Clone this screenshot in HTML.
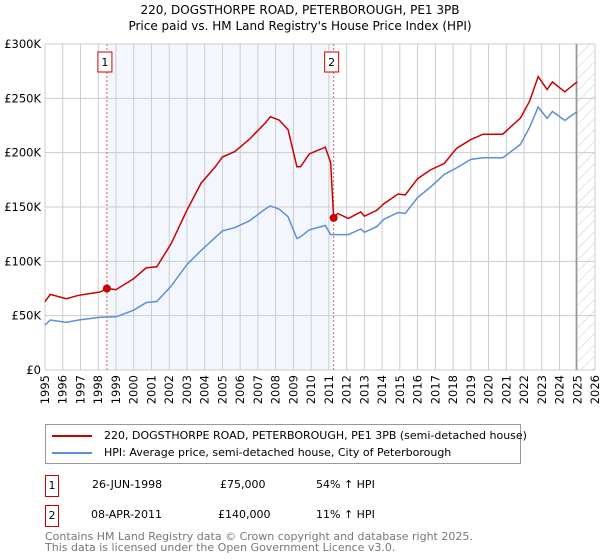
<!DOCTYPE html>
<html><head><meta charset="utf-8"><style>
body{margin:0;width:600px;height:560px;background:#fff;font-family:"DejaVu Sans","Liberation Sans",sans-serif;overflow:hidden;position:relative}
.t{position:absolute;font-size:12px;color:#000}
</style></head><body>
<div class="t" style="left:0;width:600px;text-align:center;top:2px;line-height:16px">220, DOGSTHORPE ROAD, PETERBOROUGH, PE1 3PB<br>Price paid vs. HM Land Registry's House Price Index (HPI)</div>
<svg id="c" width="600" height="420" style="position:absolute;left:0;top:0"></svg>
<div style="position:absolute;left:45px;top:424px;width:474px;height:38px;border:1px solid #999;font-size:11px">
<div style="position:absolute;left:6px;top:4px;white-space:nowrap"><span style="display:inline-block;width:40px;height:2px;background:#cc0000;vertical-align:middle;margin-right:12px"></span>220, DOGSTHORPE ROAD, PETERBOROUGH, PE1 3PB (semi-detached house)</div>
<div style="position:absolute;left:6px;top:21px;white-space:nowrap"><span style="display:inline-block;width:40px;height:2px;background:#5b8fd6;vertical-align:middle;margin-right:12px"></span>HPI: Average price, semi-detached house, City of Peterborough</div>
</div>
<div style="position:absolute;left:45px;top:475px;font-size:11px;width:500px;height:22px">
<span style="position:absolute;left:0;top:0;width:12px;height:20px;border:1px solid #cc0000;text-align:center;line-height:20px">1</span>
<span style="position:absolute;left:47px;top:3px">26-JUN-1998</span><span style="position:absolute;left:175px;top:3px">£75,000</span><span style="position:absolute;left:271px;top:3px">54% ↑ HPI</span></div>
<div style="position:absolute;left:45px;top:505px;font-size:11px;width:500px;height:22px">
<span style="position:absolute;left:0;top:0;width:12px;height:20px;border:1px solid #cc0000;text-align:center;line-height:20px">2</span>
<span style="position:absolute;left:46px;top:3px">08-APR-2011</span><span style="position:absolute;left:173px;top:3px">£140,000</span><span style="position:absolute;left:271px;top:3px">11% ↑ HPI</span></div>
<div style="position:absolute;left:45px;top:531px;font-size:11px;color:#777;line-height:11px">Contains HM Land Registry data © Crown copyright and database right 2025.<br>This data is licensed under the Open Government Licence v3.0.</div>
<script>
const hpiYears=[1995.0,1995.3,1996.2,1996.9,1998.1,1999.0,2000.0,2000.7,2001.3,2002.1,2003.0,2003.8,2004.6,2005.0,2005.7,2006.5,2007.4,2007.7,2008.2,2008.7,2009.2,2009.4,2009.9,2010.8,2011.1,2012.1,2012.8,2013.0,2013.7,2014.1,2014.9,2015.3,2016.0,2016.7,2017.5,2018.2,2019.0,2019.7,2020.8,2021.8,2022.3,2022.8,2023.3,2023.6,2024.3,2024.9,2025.0];
const hpiValues=[41.4,46,43.8,46,48.5,49,55,62,63,77,97,110,122,128,131,137,148,151,148,141,121,122.6,129,133,124.6,124.6,129.8,126.7,131.9,138.8,144.9,144,158.7,167.9,180,186,193.8,195.3,195.3,207.6,223,242,231.5,238,229.7,236.8,237];
const redYears1=[1995.0,1995.3,1996.2,1996.9,1998.1,1998.49,1999.0,2000.0,2000.7,2001.3,2002.1,2003.0,2003.8,2004.6,2005.0,2005.7,2006.5,2007.4,2007.7,2008.2,2008.7,2009.2,2009.4,2009.9,2010.8,2011.1,2011.27];
const redValues1=[62.9,69.6,65.6,68.7,71.8,75,74,84,94,95,116,147,172,187,196,201,212,227,233,230,221,187,187,199,205,191,140];
const redYears2=[2011.27,2011.5,2012.1,2012.8,2013.0,2013.7,2014.1,2014.9,2015.3,2016.0,2016.7,2017.5,2018.2,2019.0,2019.7,2020.8,2021.8,2022.3,2022.8,2023.3,2023.6,2024.3,2024.9,2025.0];
const redValues2=[140,144,139.5,145.5,141.5,147,153,162,161,176,184,190,204,212,217,217,232,247,270,258,265,256,264,265];
const saleYears=[1998.49,2011.27];
const saleValues=[75,140];
const saleLabels=["1","2"];
const yTicks=[0,50,100,150,200,250,300];
const yTickLabels=["£0","£50K","£100K","£150K","£200K","£250K","£300K"];
const xTicks=[1995,1996,1997,1998,1999,2000,2001,2002,2003,2004,2005,2006,2007,2008,2009,2010,2011,2012,2013,2014,2015,2016,2017,2018,2019,2020,2021,2022,2023,2024,2025,2026];
const svg=document.getElementById('c'),NS='http://www.w3.org/2000/svg';
const X0=45,X1=595,Y0=370,Y1=44;
const sx=y=>X0+(y-1995)/(2026-1995)*(X1-X0);
const sy=v=>Y0-v/300*(Y0-Y1);
function mk(t,a){const e=document.createElementNS(NS,t);for(const k in a)e.setAttribute(k,a[k]);svg.appendChild(e);return e;}
let e=mk('rect',{x:sx(saleYears[0]),y:Y1,width:sx(saleYears[1])-sx(saleYears[0]),height:Y0-Y1,fill:'#eef3fc',opacity:0.7});


const defs=mk('defs',{});
defs.innerHTML='<pattern id="h" width="8" height="8" patternUnits="userSpaceOnUse" patternTransform="rotate(45)"><line x1="0" y1="0" x2="0" y2="8" stroke="#ccc" stroke-width="1"/></pattern>';
e=mk('rect',{x:sx(2024.95),y:Y1,width:X1-sx(2024.95),height:Y0-Y1,fill:'url(#h)'});


xTicks.forEach(t=>{e=mk('line',{x1:sx(t),x2:sx(t),y1:Y1,y2:Y0,stroke:'#ccc'});


e=mk('text',{x:0,y:0,transform:`translate(${sx(t)+4},${Y0+5}) rotate(-90)`,'text-anchor':'end','font-size':'11.5','font-family':'DejaVu Sans, sans-serif'});e.textContent=t;

});
yTicks.forEach((t,i)=>{e=mk('line',{x1:X0,x2:X1,y1:sy(t),y2:sy(t),stroke:'#ccc'});


e=mk('text',{x:X0-4,y:sy(t)+4,'text-anchor':'end','font-size':'11.5','font-family':'DejaVu Sans, sans-serif'});e.textContent=yTickLabels[i];

});
e=mk('line',{x1:sx(2024.95),x2:sx(2024.95),y1:Y1,y2:Y0,stroke:'#999','stroke-width':1.5});


saleYears.forEach((y,i)=>{e=mk('line',{x1:sx(y),x2:sx(y),y1:Y1,y2:Y0,stroke:'#e06060','stroke-dasharray':'2,2'});

});
const pts=(xs,vs)=>xs.map((x,i)=>sx(x).toFixed(1)+','+sy(vs[i]).toFixed(1)).join(' ');
e=mk('polyline',{points:pts(hpiYears,hpiValues),fill:'none',stroke:'#5b8fd6','stroke-width':1.5});


e=mk('polyline',{points:pts(redYears1,redValues1)+' '+pts(redYears2,redValues2),fill:'none',stroke:'#cc0000','stroke-width':1.5});


saleYears.forEach((y,i)=>{e=mk('circle',{cx:sx(y),cy:sy(saleValues[i]),r:4,fill:'#cc0000'});


e=mk('rect',{x:sx(y)-9,y:52,width:14,height:20,fill:'#fff',stroke:'#cc0000'});


e=mk('text',{x:sx(y)-2,y:66,'text-anchor':'middle','font-size':'11','font-family':'DejaVu Sans, sans-serif'});e.textContent=saleLabels[i];

});
</script>
</body></html>
